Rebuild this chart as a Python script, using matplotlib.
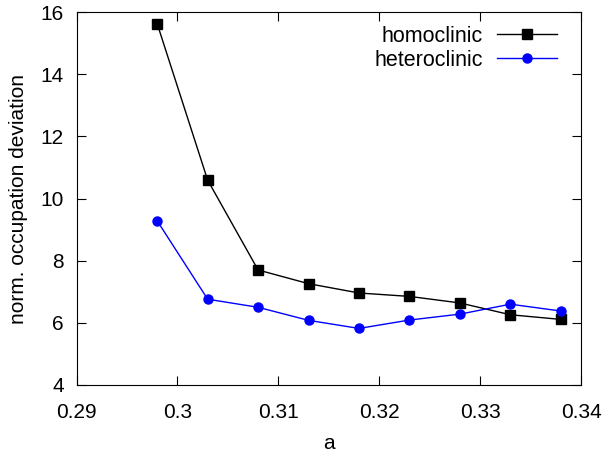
import matplotlib
matplotlib.use('Agg')
import matplotlib.pyplot as plt

plt.rcParams['font.family'] = ['Liberation Sans', 'DejaVu Sans']

a = [0.298, 0.303, 0.308, 0.313, 0.318, 0.323, 0.328, 0.333, 0.338]
homoclinic = [15.62, 10.59, 7.70, 7.26, 6.96, 6.85, 6.64, 6.26, 6.11]
heteroclinic = [9.28, 6.76, 6.50, 6.08, 5.82, 6.09, 6.28, 6.60, 6.38]

W, H = 608, 455
left, right, top, bottom = 76.5, 581, 12, 385
fig = plt.figure(figsize=(W/100, H/100), dpi=100)
ax = fig.add_axes([left/W, (H-bottom)/H, (right-left)/W, (bottom-top)/H])

ax.plot(a, homoclinic, color='black', lw=1, marker='s', ms=6.5, label='homoclinic')
ax.plot(a, heteroclinic, color='blue', lw=1, marker='o', ms=6.5, label='heteroclinic')

ax.set_xlim(0.29, 0.34)
ax.set_ylim(4, 16)
ax.set_xticks([0.29, 0.3, 0.31, 0.32, 0.33, 0.34])
ax.set_xticklabels(['0.29', '0.3', '0.31', '0.32', '0.33', '0.34'])
ax.set_yticks([4, 6, 8, 10, 12, 14, 16])
ax.tick_params(direction='in', top=True, right=True, labelsize=15, length=6.5, width=0.8)
ax.tick_params(axis='x', pad=13)
ax.tick_params(axis='y', pad=9)
ax.set_xlabel('a', fontsize=15)
ax.set_ylabel('norm. occupation deviation', fontsize=15)
ax.xaxis.set_label_coords(0.5, -0.131)
ax.yaxis.set_label_coords(-0.097, 0.5)

ax.legend(loc='upper right', bbox_to_anchor=(1, 1.027), frameon=False, fontsize=15.5,
          markerfirst=False, handlelength=2.8, handletextpad=0.65, borderaxespad=0.7,
          labelspacing=0.15)

fig.savefig('out.png', dpi=100)
